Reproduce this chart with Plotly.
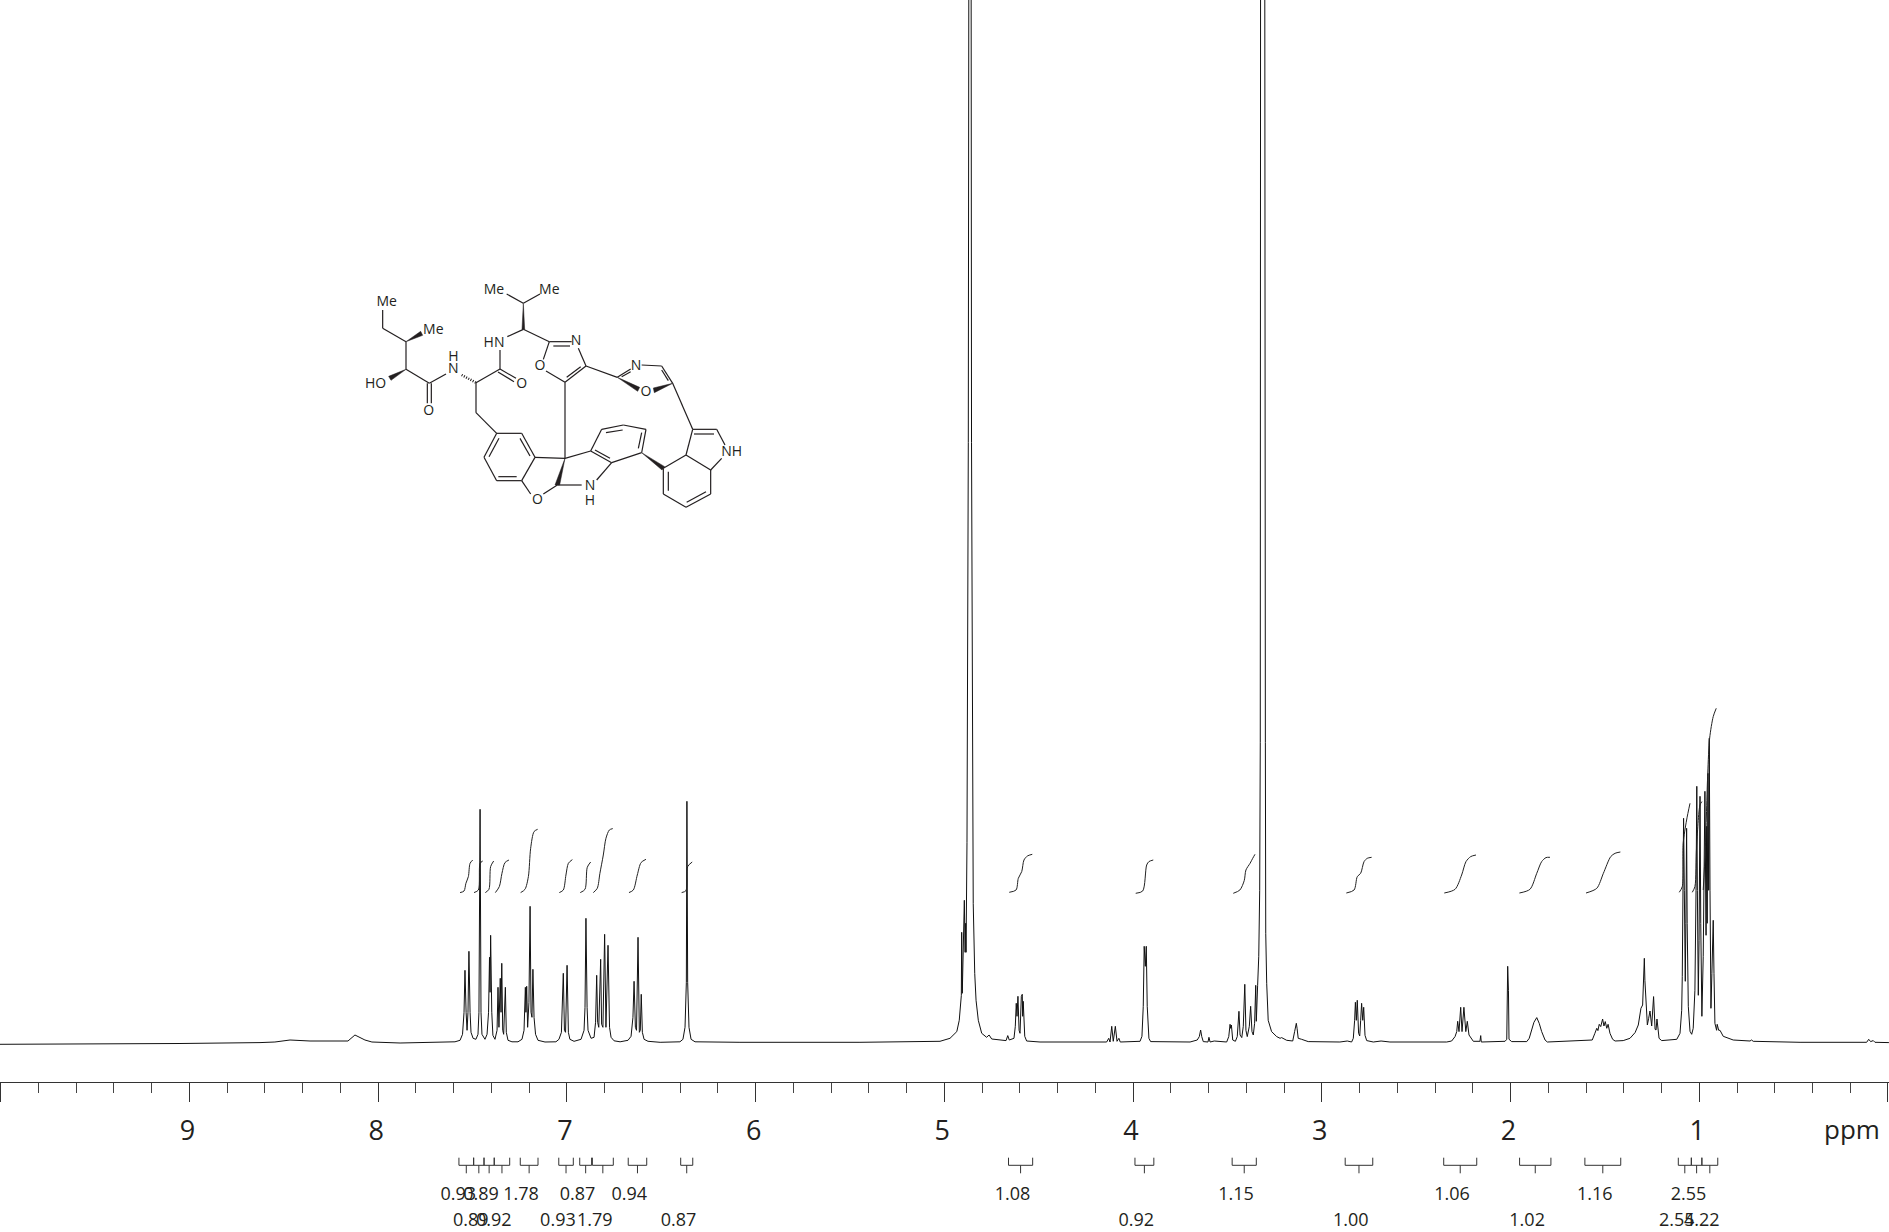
import plotly.graph_objects as go

# ---------- 1H NMR spectrum ----------
spectrum_ppm = [
10.004,9.474,9.050,8.626,8.547,8.467,8.361,8.160,8.123,8.070,8.033,7.884,7.609,
7.593,7.566,7.553,7.545,7.540,7.534,7.529,7.524,7.519,7.513,7.508,7.497,7.482,7.471,7.466,7.460,7.455,7.450,
7.434,7.423,7.415,7.410,7.407,7.404,7.398,7.392,7.381,7.370,7.365,7.360,7.353,7.349,7.345,7.340,7.335,7.326,7.321,7.312,
7.291,7.259,7.238,7.227,7.220,7.217,7.213,7.208,7.201,7.195,7.190,7.185,7.180,7.174,7.166,7.153,7.116,
7.058,7.042,7.029,7.019,7.013,7.007,6.999,6.992,6.984,6.962,6.925,6.909,6.904,6.899,6.893,6.888,6.872,
6.856,6.848,6.842,6.837,6.831,6.821,6.816,6.809,6.800,6.793,6.782,6.774,6.766,6.750,6.718,
6.676,6.660,6.650,6.644,6.637,6.631,6.623,6.616,6.611,6.606,6.600,6.591,6.570,6.506,
6.401,6.385,6.374,6.367,6.364,6.360,6.353,6.342,6.321,6.083,5.447,
5.023,4.970,4.934,4.921,4.913,4.910,4.908,4.905,4.894,4.890,4.887,4.885,4.880,4.873,4.869,4.859,4.856,4.850,4.847,4.839,4.832,4.820,4.802,
4.776,4.763,4.749,4.688,4.673,4.664,4.656,4.631,4.624,4.619,4.615,4.610,4.604,4.599,4.592,4.587,4.585,4.582,4.574,4.564,4.493,
4.140,4.129,4.122,4.113,4.105,4.094,4.085,4.075,4.068,4.034,3.963,3.953,3.946,3.941,3.935,3.930,3.925,3.916,3.907,
3.698,3.660,3.649,3.642,3.636,3.628,3.603,3.598,3.592,3.570,3.504,3.493,3.486,3.483,3.479,3.472,3.458,3.448,3.439,3.433,3.424,3.416,3.408,3.402,3.395,
3.384,3.377,3.370,3.363,3.356,3.350,3.347,3.340,3.334,3.329,3.326,3.324,3.303,3.299,3.297,3.292,3.284,3.266,3.239,3.221,3.213,3.186,3.154,3.144,3.138,3.135,3.131,3.125,3.107,3.072,
2.904,2.865,2.842,2.833,2.826,2.822,2.817,2.812,2.805,2.799,2.794,2.789,2.783,2.778,2.771,2.762,2.727,2.686,2.639,
2.338,2.312,2.294,2.285,2.280,2.273,2.264,2.257,2.247,2.237,2.229,2.220,2.209,2.197,2.162,2.158,2.155,
2.029,2.020,2.017,2.015,2.011,2.008,1.994,1.914,1.901,1.888,1.876,1.861,1.848,1.835,1.817,1.805,
1.685,1.597,1.567,1.553,1.543,1.537,1.530,1.522,1.512,1.505,1.498,1.490,1.483,1.473,1.459,1.446,1.403,1.367,1.340,1.323,1.309,1.300,1.295,1.291,1.288,1.282,1.275,1.268,1.261,1.252,1.242,1.234,1.229,1.224,1.217,
1.213,1.199,1.155,1.119,1.102,1.093,1.090,1.086,1.083,1.079,1.074,1.071,1.067,1.064,1.058,1.049,1.040,1.032,1.023,1.017,1.013,1.010,1.005,1.001,0.996,0.992,0.986,
0.979,0.973,0.970,0.964,0.961,0.958,0.954,0.950,0.947,0.943,0.938,0.933,0.926,0.922,0.917,0.908,0.905,0.897,0.890,0.873,0.820,0.731,0.723,0.714,0.466,
0.113,0.102,0.092,0.078,0.069,-0.005]
spectrum_int = [
-2,-1.8,-1.2,-0.3,0.3,2.3,1.3,1.3,7.3,2.3,0.3,-0.7,0.3,
0.5,2,8,30,72,30,12,30,91,30,10,4,3,8,30,233,30,8,
3,8,30,85,50,107,30,7,3,12,55,15,64,30,79,12,8,55,10,2,
0.5,0.5,3,12,55,30,56,15,40,136,30,25,73,25,8,2,0.3,
0.5,3,10,69,12,10,77,10,3,1,3,12,35,124,35,12,4,
5,20,67,20,15,83,18,15,108,15,97,15,5,1.5,0.5,
2,6,25,61,15,12,105,10,12,48,10,3,1,0,
0.5,3,15,60,241,60,15,3,0.5,0,0,
1,4,10.7,22,42,47,110,49,142,90,119,90,200,600,1300,1300,600,200,139,69,42,22,9,
5,7.3,3.3,1.7,1.7,6.7,2.3,4,16,39,26,46,12,9,46,48,26,41,6,1.3,0.3,
0.3,4,0.3,16,1,16,1,4,0.3,0.3,1,6,36,96,76,96,36,4,0.7,
0.3,2.3,5.7,12.3,5.7,0.7,0.3,5,0.3,1.3,0.3,5.7,18,14,17.3,2.3,1,5.7,31,7.3,4.7,16,58,12,5.7,
16,36,10.7,7.3,19,57,21,57,86,152,300,1300,1300,300,109,59,22,10.7,5.7,4,4.7,2,1.3,10.7,17,19,14,4,3,0.7,
0.3,1.3,0.3,4,22,40,22,42,9,6.3,22,39,22,35,7,1.7,0.3,1.3,0.3,
0.3,1.3,5.7,10.7,21,10.7,35,10.7,35,10.7,21,7.3,4,1,1,6.7,0.3,
1,3,52,76,52,3,0.7,0.7,4,12.3,20,24.7,19,10.7,2.3,0.3,
1,2,2.3,9,14,11.7,18,15.7,23.3,16.3,20.7,14,18,9,3,1.3,1.7,4,9.7,17.3,34,37.3,62,84,62,45.7,17.3,24,31.3,16.3,45.7,13,12.3,23.3,5.7,
4,1.7,2.3,3,9,32,66,152,224,152,61,119,214,119,36,11,8,14,52,152,256,152,47,102,246,119,26,
86,219,251,107,216,119,269,152,304,152,34,69,122,69,19,12,18,12,12,6,2.3,1.3,2.3,1,0,
0,3,0.7,1.7,0,-0.3]

# ---------- integral curves (None separates regions) ----------
integral_ppm = [
7.566,7.545,7.535,7.522,7.513,7.499,None,
7.492,7.469,7.460,7.446,None,
7.432,7.413,7.404,7.388,None,
7.379,7.358,7.344,7.328,7.307,None,
7.245,7.222,7.204,7.192,7.174,7.155,None,
7.040,7.019,7.005,6.992,6.971,None,
6.929,6.904,6.892,6.874,None,
6.860,6.839,6.825,6.807,6.793,6.775,6.757,None,
6.671,6.648,6.627,6.607,6.581,None,
6.392,6.369,6.360,6.336,None,
4.656,4.620,4.608,4.590,4.578,4.560,4.534,None,
3.986,3.949,3.928,3.916,3.893,None,
3.469,3.434,3.411,3.402,3.380,3.366,3.354,None,
2.870,2.829,2.812,2.794,2.776,2.759,2.736,None,
2.351,2.294,2.259,2.236,2.211,2.183,None,
1.953,1.897,1.861,1.835,1.812,1.791,None,
1.600,1.543,1.508,1.469,1.446,1.418,None,
1.106,1.090,1.085,1.067,1.049,None,
1.037,1.023,1.014,0.996,0.986,None,
0.979,0.968,0.955,0.945,0.926,0.910]
integral_int = [
149.7,151.3,159,165.7,179,182.3,None,
149.7,152.3,179,181.3,None,
149.7,153,175.7,181.3,None,
149.7,155.7,169,179.7,182.3,None,
149.7,153,165.7,194,210.7,213,None,
149.7,152.3,167.3,179,182.7,None,
149.7,153,175,180.3,None,
149.7,154,169,187.3,204,212.3,213.7,None,
149.7,152.3,167.3,179.7,183,None,
149.7,151.7,175.7,180.3,None,
150,152.3,164,170.7,182.3,186.3,188,None,
149,151.3,177.3,180.7,182.3,None,
149,152.3,161.7,172.3,179,184,188,None,
149.3,152.3,165.7,169,180.7,184,185,None,
149.3,153,167.3,180.7,185.7,187.3,None,
149.3,153,169,180.7,184.7,185,None,
149.3,154,169,185.7,189,190.3,None,
150,155.7,199,222.3,239,None,
150,155.7,195.7,237.3,240.7,None,
152.3,192.3,269,304,325.7,334]

# ---------- integration brackets ----------
bracket_left = [7.572,7.494,7.439,7.385,7.247,7.043,6.932,6.865,6.675,6.397,4.660,3.990,3.475,2.876,2.354,1.952,1.606,1.111,1.042,0.986]
bracket_right = [7.494,7.439,7.385,7.303,7.153,6.966,6.869,6.754,6.577,6.333,4.532,3.890,3.347,2.730,2.179,1.786,1.416,1.042,0.986,0.902]
bracket_values = ["0.93","0.89","0.89","0.92","1.78","0.93","0.87","1.79","0.94","0.87","1.08","0.92","1.15","1.00","1.06","1.02","1.16","2.55","2.55","4.22"]

tick_values = [10,9,8,7,6,5,4,3,2,1,0]
tick_labels = ["","9","8","7","6","5","4","3","2","1",""]

# ---------- structure drawing ----------
bonds = [
((128,120),(128,175)),((128,175),(198,215)),((198,215),(198,298)),((198,298),(268,340)),
((262,340),(262,400)),((274,340),(274,400)),((268,340),(318,312)),((408,338),(480,297)),
((480,297),(528,325)),((474,306),(522,335)),((480,297),(480,240)),((502,200),(550,178)),
((550,100),(500,72)),((550,100),(600,72)),((550,178),(628,215)),((628,215),(695,215)),
((640,228),(690,228)),((715,235),(738,288)),((738,288),(675,337)),((722,290),(680,322)),
((675,337),(618,303)),((610,268),(628,215)),((738,288),(832,322)),((832,322),(872,297)),
((845,320),(872,305)),((905,285),(965,288)),((965,288),(998,340)),((965,300),(985,332)),
((998,340),(1058,478)),((1058,478),(1130,478)),((1062,492),(1122,492)),((1130,478),(1155,525)),
((1145,565),(1112,600)),((1112,600),(1038,555)),((1038,555),(1058,478)),((1038,555),(970,595)),
((970,595),(970,672)),((985,605),(985,662)),((970,672),(1038,712)),((1038,712),(1112,672)),
((1040,697),(1098,665)),((1112,672),(1112,600)),((905,548),(918,478)),((895,535),(905,488)),
((918,478),(850,465)),((850,465),(785,478)),((848,480),(798,488)),((785,478),(752,543)),
((752,543),(815,578)),((765,540),(810,565)),((815,578),(905,548)),((815,578),(770,630)),
((725,645),(652,645)),((752,543),(675,565)),((675,337),(675,565)),((652,645),(610,672)),
((572,672),(545,632)),((545,632),(470,632)),((530,620),(475,620)),((470,632),(432,562)),
((432,562),(470,490)),((447,560),(477,505)),((470,490),(545,490)),((545,490),(585,562)),
((540,505),(570,558)),((585,562),(545,632)),((585,562),(675,565)),((470,490),(408,428)),
((408,428),(408,338)),
]
wedges = [
((198,215),(242,184),(248,196)),((198,298),(146,319),(153,331)),((550,100),(546,178),(554,178)),
((675,565),(645,645),(659,645)),((905,548),(966,600),(974,590)),((832,322),(893,364),(899,352)),
((998,340),(940,354),(943,368)),
]
hash_bond = ((365,315),(408,338))
atoms = [
("Me",140,97),("Me",280,182),("HO",107,343),("O",266,423),("H",340,262),("N",340,298),
("HN",462,220),("O",545,343),("Me",462,60),("Me",628,60),("N",708,215),("O",600,290),
("N",888,288),("O",918,367),("NH",1175,547),("N",750,650),("H",750,695),("O",592,690),
]

INK = "#231f20"
bx, by = [], []
for a, b in bonds:
    bx += [a[0], b[0], None]; by += [a[1], b[1], None]
wx, wy = [], []
for t in wedges:
    wx += [t[0][0], t[1][0], t[2][0], t[0][0], None]
    wy += [t[0][1], t[1][1], t[2][1], t[0][1], None]

fig = go.Figure()
fig.add_trace(go.Scatter(x=spectrum_ppm, y=spectrum_int, mode="lines",
                         line=dict(color="#111111", width=1), hoverinfo="skip"))
fig.add_trace(go.Scatter(x=integral_ppm, y=integral_int, mode="lines",
                         line=dict(color="#222222", width=1, shape="spline", smoothing=0.8), hoverinfo="skip"))

BR_TOP, BR_MID, BR_BOT = -115.4, -123.0, -131.0
ROW1, ROW2 = -153.0, -179.0
LABEL_SHIFT = 0.043
brx, bry, lx, ly = [], [], [], []
for i, (l, r) in enumerate(zip(bracket_left, bracket_right)):
    m = (l + r) / 2
    brx += [l, l, r, r, None, m, m, None]
    bry += [BR_TOP, BR_MID, BR_MID, BR_TOP, None, BR_MID, BR_BOT, None]
    lx.append(m + LABEL_SHIFT)
    ly.append(ROW1 if i % 2 == 0 else ROW2)
fig.add_trace(go.Scatter(x=brx, y=bry, mode="lines", line=dict(color="#333333", width=1), hoverinfo="skip"))
fig.add_trace(go.Scatter(x=lx, y=ly, mode="text", text=bracket_values, textposition="middle center",
                         textfont=dict(family="Open Sans", size=18, color=INK), hoverinfo="skip"))

# structure, on its own hidden overlay axes
fig.add_trace(go.Scatter(x=bx, y=by, xaxis="x2", yaxis="y2", mode="lines",
                         line=dict(color=INK, width=1.2), hoverinfo="skip"))
fig.add_trace(go.Scatter(x=wx, y=wy, xaxis="x2", yaxis="y2", mode="lines", fill="toself", fillcolor=INK,
                         line=dict(color=INK, width=0.5), hoverinfo="skip"))
fig.add_trace(go.Scatter(x=[hash_bond[0][0], hash_bond[1][0]], y=[hash_bond[0][1], hash_bond[1][1]],
                         xaxis="x2", yaxis="y2", mode="lines",
                         line=dict(color=INK, width=2.5, dash="1px,1.5px"), hoverinfo="skip"))
fig.add_trace(go.Scatter(x=[a[1] for a in atoms], y=[a[2] for a in atoms], xaxis="x2", yaxis="y2",
                         mode="text", text=[a[0] for a in atoms], textposition="middle center",
                         textfont=dict(family="Open Sans", size=14, color=INK), hoverinfo="skip"))

fig.update_layout(
    width=1889, height=1232, autosize=False,
    margin=dict(l=0, r=0, t=0, b=0), showlegend=False,
    paper_bgcolor="white", plot_bgcolor="white",
    font=dict(family="Open Sans", color=INK),
    xaxis=dict(range=[10.0037, -0.0054], anchor="free", position=150 / 1232, showgrid=False, zeroline=False,
               showline=True, linecolor="#333333", linewidth=1,
               tickmode="array", tickvals=tick_values, ticktext=tick_labels,
               ticks="outside", ticklen=19, tickwidth=1, tickcolor="#333333",
               tickangle=0, ticklabelstandoff=6, ticklabelshift=2,
               tickfont=dict(family="Open Sans", size=27, color=INK),
               minor=dict(tickmode="linear", tick0=0, dtick=0.2, ticks="outside", ticklen=10,
                          tickwidth=1, tickcolor="#444444", showgrid=False)),
    yaxis=dict(range=[-189.7, 1042.3], domain=[0, 1], visible=False, fixedrange=True),
    xaxis2=dict(range=[-1020, 4647], domain=[0, 1], overlaying="x", visible=False, anchor="y2"),
    yaxis2=dict(range=[2886, -810], domain=[0, 1], overlaying="y", visible=False, anchor="x2"),
    annotations=[dict(x=0.192, y=-87, xref="x", yref="y", text="ppm", showarrow=False,
                      font=dict(family="Open Sans", size=26, color=INK))],
)

fig.write_html("out.html", config={"displayModeBar": False},
               post_script="document.body.style.margin='0';document.documentElement.style.overflow='hidden';")
